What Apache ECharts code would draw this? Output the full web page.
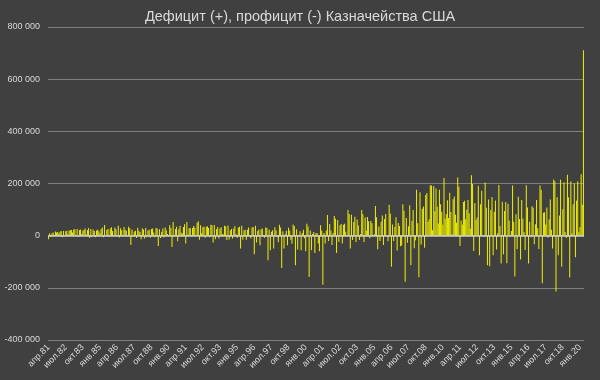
<!DOCTYPE html>
<html><head><meta charset="utf-8">
<script src="https://cdn.jsdelivr.net/npm/echarts@6/dist/echarts.min.js"></script>
<style>html,body{margin:0;padding:0;background:#404040}#c{width:600px;height:380px}</style>
</head><body><div id="c"></div>
<script>
// Monthly deficit (+) / surplus (-), millions USD, Apr 1981 .. Apr 2020
var titleText = 'Дефицит (+), профицит (-) Казначейства США';
var monthNames = ['янв','фев','мар','апр','май','июн','июл','авг','сен','окт','ноя','дек'];
var startYear = 1981, startMonth = 3; // April (0-based)
var yTicks = [-400000, -200000, 0, 200000, 400000, 600000, 800000];

var d1981 = [-14000, 9000, -5000, 8000, 12000, 3000, 16000, 12000, 14000];
var d1982 = [8000, 15000, 18000, -6000, 18000, 2000, 17000, 19000, 5000, 20000, 21000, 22000];
var d1983 = [12000, 24000, 25000, 3000, 26000, -4000, 22000, 24000, 6000, 19000, 23000, 27000];
var d1984 = [4000, 22000, 29000, -9000, 26000, -3000, 24000, 18000, -6000, 20000, 23000, 17000];
var d1985 = [9000, 26000, 31000, -6000, 41000, -2000, 22000, 26000, -4000, 27000, 32000, 18000];
var d1986 = [2000, 31000, 25000, -3000, 38000, -7000, 28000, 21000, -3000, 33000, 23000, 19000];
var d1987 = [-1000, 34000, 28000, -36000, 24000, -5000, 16000, 19000, -9000, 30000, 19000, 14000];
var d1988 = [-14000, 27000, 24000, -11000, 29000, -6000, 20000, 23000, -8000, 26000, 27000, 12000];
var d1989 = [-6000, 29000, 27000, -40000, 25000, -9000, 15000, 27000, -7000, 31000, 21000, 6000];
var d1990 = [3000, 40000, 30000, -43000, 52000, -3000, 26000, 34000, -21000, 25000, 38000, 11000];
var d1991 = [8000, 33000, 44000, -30000, 52000, 4000, 29000, 28000, -3000, 29000, 37000, 31000];
var d1992 = [3000, 50000, 55000, -16000, 40000, 9000, 32000, 34000, -8000, 34000, 36000, 29000];
var d1993 = [-6000, 42000, 40000, -26000, 41000, -14000, 25000, 33000, -11000, 27000, 32000, 6000];
var d1994 = [4000, 38000, 36000, -17000, 39000, -15000, 21000, 26000, -11000, 27000, 36000, 6000];
var d1995 = [-9000, 31000, 34000, -49000, 38000, -16000, 21000, 23000, -16000, 23000, 31000, 3000];
var d1996 = [-11000, 31000, 33000, -71000, 38000, -26000, 18000, 24000, -37000, 25000, 27000, -3000];
var d1997 = [-8000, 31000, 30000, -94000, 23000, -56000, 15000, 21000, -49000, 32000, 21000, -6000];
var d1998 = [-25000, 42000, 31000, -124000, 17000, -49000, 5000, 19000, -37000, 30000, 20000, -17000];
var d1999 = [-31000, 43000, 37000, -113000, 25000, -53000, 3000, 17000, -56000, 10000, 23000, -10000];
var d2000 = [-60000, 46000, 35000, -158000, 20000, -56000, 6000, 14000, -66000, 10000, 9000, -30000];
var d2001 = [-60000, 40000, 20000, -188000, 10000, -30000, 20000, 79000, -20000, 45000, 20000, -36000];
var d2002 = [10000, 75000, 65000, -66000, 60000, -24000, 40000, 45000, -30000, 42000, 46000, 15000];
var d2003 = [2000, 98000, 83000, -49000, 80000, -17000, 52000, 73000, -24000, 62000, 39000, -17000];
var d2004 = [6000, 98000, 82000, -24000, 70000, 19000, 72000, 55000, -10000, 56000, 48000, -1000];
var d2005 = [5000, 114000, 71000, -52000, 35000, -20000, 53000, 77000, -36000, 64000, 83000, -4000];
var d2006 = [-21000, 119000, 85000, -119000, 43000, -20000, 33000, 71000, -57000, 49000, 37000, -41000];
var d2007 = [-38000, 120000, 96000, -177000, 68000, -27000, 36000, 117000, -113000, 57000, 98000, -48000];
var d2008 = [-18000, 176000, 48000, -159000, 166000, -34000, 103000, 112000, -46000, 156000, 164000, 52000];
var d2009 = [63000, 193000, 192000, 21000, 190000, 94000, 181000, 111000, 47000, 176000, 120000, 92000];
var d2010 = [43000, 221000, 65000, 83000, 136000, 68000, 165000, 91000, 5000, 140000, 150000, 80000];
var d2011 = [50000, 223000, 188000, -40000, 58000, 43000, 129000, 134000, 63000, 99000, 137000, 86000];
var d2012 = [27000, 232000, 198000, -59000, 125000, 60000, 70000, 191000, -75000, 120000, 172000, 0];
var d2013 = [-3000, 204000, 107000, -113000, 139000, -117000, 98000, 148000, -75000, 92000, 135000, -53000];
var d2014 = [10000, 194000, 37000, -107000, 130000, -71000, 95000, 129000, -106000, 122000, 57000, -2000];
var d2015 = [18000, 192000, 53000, -157000, 82000, -52000, 149000, 64000, -91000, 137000, 65000, 14000];
var d2016 = [-55000, 193000, 108000, -107000, 53000, -6000, 113000, 107000, -33000, 44000, 137000, 28000];
var d2017 = [-51000, 192000, 176000, -182000, 88000, 90000, 43000, 108000, -8000, 63000, 139000, 23000];
var d2018 = [-49000, 215000, 209000, -214000, 147000, -75000, 77000, 214000, -119000, 101000, 205000, 14000];
var d2019 = [-9000, 234000, 147000, -160000, 208000, 9000, 120000, 200000, -83000, 135000, 209000, 13000];
var d2020 = [33000, 235000, 119000, 711000];

var values = [].concat(d1981, d1982, d1983, d1984, d1985, d1986, d1987, d1988, d1989, d1990,
  d1991, d1992, d1993, d1994, d1995, d1996, d1997, d1998, d1999, d2000,
  d2001, d2002, d2003, d2004, d2005, d2006, d2007, d2008, d2009, d2010,
  d2011, d2012, d2013, d2014, d2015, d2016, d2017, d2018, d2019, d2020);

var categories = [];
for (var k = 0; k < values.length; k++) {
  var m = startMonth + k;
  var yr = startYear + Math.floor(m / 12);
  categories.push(monthNames[m % 12] + '.' + String(yr % 100).padStart(2, '0'));
}

function fmt(v) {
  var s = String(Math.abs(v)).replace(/\B(?=(\d{3})+(?!\d))/g, ' ');
  return (v < 0 ? '-' : '') + s;
}

var chart = echarts.init(document.getElementById('c'), null, {renderer: 'canvas'});
chart.setOption({
  backgroundColor: '#404040',
  animation: false,
  title: {
    text: titleText, left: 'center', top: 4,
    textStyle: {color: '#d9d9d9', fontSize: 14.5, fontWeight: 'normal', fontFamily: 'Liberation Sans'}
  },
  grid: {left: 48, right: 16, top: 27, bottom: 40, containLabel: false},
  xAxis: {
    type: 'category', data: categories,
    axisLine: {show: false, onZero: false},
    axisTick: {show: false},
    axisLabel: {interval: 14, rotate: 45, color: '#d9d9d9', fontSize: 9, fontFamily: 'Liberation Sans', margin: 6}
  },
  yAxis: {
    type: 'value', min: yTicks[0], max: yTicks[yTicks.length - 1], interval: 200000,
    axisLine: {show: false}, axisTick: {show: false},
    splitLine: {lineStyle: {color: '#808080', width: 1.2}},
    axisLabel: {color: '#d9d9d9', fontSize: 9, fontFamily: 'Liberation Sans', margin: 8, formatter: fmt}
  },
  series: [{
    type: 'bar', data: values, barCategoryGap: '20%',
    itemStyle: {color: '#f0f000'},
    markLine: {
      silent: true, symbol: 'none', label: {show: false},
      lineStyle: {color: '#d0d0d0', width: 1.5, type: 'solid'},
      data: [{yAxis: 0}]
    }
  }]
});
</script></body></html>
